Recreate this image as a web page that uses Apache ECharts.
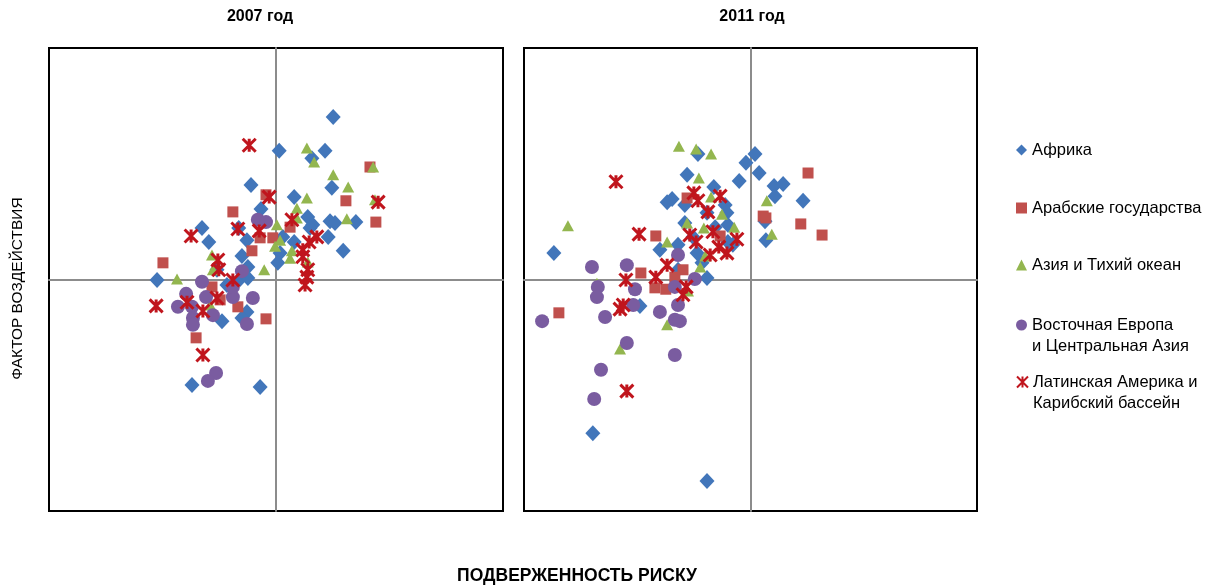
<!DOCTYPE html>
<html>
<head>
<meta charset="utf-8">
<script src="https://cdn.jsdelivr.net/npm/echarts@6/dist/echarts.min.js"></script>
<style>
  html, body { margin: 0; padding: 0; background: #fff; }
  #chart { width: 1208px; height: 588px; }
</style>
</head>
<body>
<div id="chart"></div>
<script>
// регионы
const regionNames = ['Африка', 'Арабские государства', 'Азия и Тихий океан',
    'Восточная Европа\nи Центральная Азия', 'Латинская Америка и\nКарибский бассейн'];
const yearTitles = ['2007 год', '2011 год'];

// [подверженность риску, фактор воздействия], 2007
const africa2007 = [[1.26,3.51],[0.07,2.78],[1.08,2.78],[0.79,2.62],[-0.55,2.04],[1.23,1.98],[0.40,1.78],
    [-0.33,1.52],[0.70,1.35],[-1.63,1.11],[-0.82,1.11],[1.19,1.26],[1.30,1.22],[1.76,1.24],[-1.48,0.81],
    [-0.64,0.85],[0.81,1.18],[0.15,0.92],[0.40,0.81],[1.15,0.92],[1.48,0.62],[-0.75,0.51],[0.09,0.57],
    [0.04,0.36],[-0.62,0.27],[-2.62,-0.01],[-0.79,0.01],[-0.62,0.03],[-1.08,-0.12],[-0.64,-0.70],
    [-1.19,-0.90],[-0.75,-0.83],[-1.85,-2.28],[-0.35,-2.32],[-1.30,0.21],[0.75,1.11]];
const arab2007 = [[2.07,2.43],[1.54,1.70],[2.20,1.24],[-0.22,1.83],[-0.95,1.46],[0.31,1.13],[-0.35,0.90],
    [-0.07,0.90],[-0.53,0.62],[-2.49,0.36],[-1.41,-0.16],[-1.23,-0.44],[-0.84,-0.59],[-0.22,-0.85],[-1.76,-1.26]];
const asia2007 = [[0.68,2.84],[0.84,2.54],[2.14,2.43],[1.26,2.26],[1.59,2.00],[0.68,1.76],[2.18,1.72],
    [0.46,1.54],[0.46,1.33],[1.56,1.31],[0.02,1.18],[0.09,0.85],[-0.02,0.72],[0.35,0.62],[0.31,0.46],
    [-0.26,0.21],[-1.41,0.53],[-1.39,0.21],[-2.18,0.01],[0.70,0.38],[-1.45,-0.55]];
const europe2007 = [[-0.40,1.29],[-0.22,1.24],[-0.75,0.18],[-1.63,-0.05],[-1.98,-0.31],[-1.54,-0.38],
    [-0.95,-0.38],[-0.51,-0.40],[-2.16,-0.59],[-1.85,-0.59],[-1.39,-0.77],[-1.83,-0.83],[-1.83,-0.98],
    [-0.64,-0.96],[-1.32,-2.02],[-1.50,-2.19],[-0.95,-0.16]];
const latin2007 = [[-0.59,2.90],[-0.15,1.78],[2.25,1.67],[0.35,1.29],[-1.87,0.94],[-0.84,1.09],[-0.37,1.05],
    [0.90,0.92],[0.73,0.81],[0.59,0.64],[0.59,0.49],[-1.28,0.42],[-1.26,0.21],[0.70,0.21],[0.68,0.05],
    [0.64,-0.12],[-0.95,-0.01],[-2.64,-0.57],[-1.96,-0.49],[-1.30,-0.40],[-1.61,-0.68],[-1.61,-1.63]];

// 2011
const africa2011 = [[0.10,2.71],[-0.10,2.52],[0.19,2.30],[-0.25,2.13],[0.52,2.02],[0.72,2.06],[0.54,1.80],
    [1.16,1.70],[-1.16,2.71],[-1.40,2.26],[-0.81,2.00],[-1.84,1.67],[-1.73,1.74],[-1.45,1.61],[-0.56,1.61],
    [-0.52,1.44],[-0.96,1.44],[-1.45,1.22],[-0.50,1.18],[0.32,1.26],[0.34,0.85],[-0.78,1.13],[-1.60,0.75],
    [-2.00,0.64],[-1.18,0.57],[-0.50,0.81],[-1.60,0.21],[-0.96,0.03],[-4.34,0.57],[-2.44,-0.57],
    [-3.48,-3.32],[-0.96,-4.35],[-1.07,0.36],[-0.39,0.75],[-1.27,0.92]];
const arab2011 = [[1.27,2.30],[0.28,1.37],[0.34,1.33],[1.11,1.20],[1.58,0.96],[-1.40,1.76],[-2.09,0.94],
    [-0.67,0.94],[-2.42,0.14],[-1.49,0.21],[-1.67,0.05],[-2.11,-0.18],[-1.87,-0.21],[-4.23,-0.72]];
const asia2011 = [[-1.58,2.88],[-1.20,2.82],[-0.87,2.71],[-1.14,2.19],[-0.87,1.78],[-0.63,1.41],[0.36,1.70],
    [0.47,0.98],[-4.03,1.16],[-1.40,1.22],[-1.03,1.11],[-0.36,1.13],[-1.84,0.81],[-1.00,0.51],[-1.11,0.27],
    [-3.39,-0.08],[-1.38,-0.25],[-1.84,-0.98],[-2.88,-1.50]];
const europe2011 = [[-3.50,0.27],[-2.73,0.31],[-3.37,-0.16],[-3.39,-0.38],[-2.55,-0.21],[-1.60,0.53],
    [-1.23,0.01],[-1.67,-0.16],[-2.59,-0.55],[-3.21,-0.81],[-2.00,-0.70],[-1.60,-0.55],[-1.67,-0.87],
    [-1.56,-0.90],[-4.60,-0.90],[-2.73,-1.37],[-1.67,-1.63],[-3.30,-1.95],[-3.45,-2.58]];
const latin2011 = [[-2.97,2.11],[-1.25,1.87],[-1.16,1.70],[-0.67,1.80],[-0.94,1.46],[-2.46,0.98],[-1.34,0.96],
    [-1.20,0.81],[-0.83,1.03],[-0.30,0.87],[-0.70,0.70],[-0.89,0.53],[-0.52,0.57],[-1.84,0.31],[-2.75,-0.01],
    [-2.09,0.05],[-1.42,-0.16],[-1.49,-0.33],[-2.88,-0.64],[-2.81,-0.55],[-2.73,-2.41]];

const yearData = [
    [africa2007, arab2007, asia2007, europe2007, latin2007],
    [africa2011, arab2011, asia2011, europe2011, latin2011]
];

const colors = ['#4276BA', '#C0504D', '#93B64F', '#7A5CA0', '#C0151D'];
const symbols = ['diamond', 'rect', 'triangle', 'circle', 'path://M0,0L10,10M10,0L0,10M5,0L5,10'];
const symbolSizes = [[15, 16], 11, [12, 11], 14, 13];

const font = 'Liberation Sans';
const myChart = echarts.init(document.getElementById('chart'));

const grids = [
    { left: 49, top: 48, width: 454, height: 463 },
    { left: 524, top: 48, width: 453, height: 463 }
].map(g => Object.assign(g, { show: true, borderColor: '#000', borderWidth: 2 }));

const axisCommon = {
    type: 'value', min: -5, max: 5,
    axisLine: { show: true, onZero: true, lineStyle: { color: '#8c8c8c', width: 2 } },
    axisTick: { show: false },
    axisLabel: { show: false },
    splitLine: { show: false }
};

const series = [];
yearData.forEach((groups, gi) => {
    groups.forEach((points, si) => {
        const isCross = si === 4;
        series.push({
            name: regionNames[si],
            type: 'scatter',
            xAxisIndex: gi,
            yAxisIndex: gi,
            symbol: symbols[si],
            symbolSize: symbolSizes[si],
            data: points,
            itemStyle: isCross
                ? { color: colors[si], borderColor: colors[si], borderWidth: 3, opacity: 1 }
                : { color: colors[si], opacity: 1 }
        });
    });
});

// положение значков легенды по вертикали
const legendCenters = [150, 208, 265, 325, 382];
const legendLine = 21.5;
const legends = regionNames.map((name, i) => {
    const lines = name.indexOf('\n') >= 0 ? 3 : 1;
    return {
        orient: 'vertical',
        left: 1016,
        top: legendCenters[i] - lines * legendLine / 2,
        padding: 0,
        itemWidth: 11,
        itemHeight: 11,
        selectedMode: false,
        data: [name],
        formatter: n => (n.indexOf('\n') >= 0 ? ' \n' + n : n),
        textStyle: { fontFamily: font, fontSize: 16.5, lineHeight: legendLine, color: '#000' }
    };
});

myChart.setOption({
    animation: false,
    textStyle: { fontFamily: font },
    title: [
        { text: yearTitles[0], left: 255, top: 4, textAlign: 'center',
          textStyle: { fontFamily: font, fontSize: 16, fontWeight: 'bold', color: '#000' } },
        { text: yearTitles[1], left: 747, top: 4, textAlign: 'center',
          textStyle: { fontFamily: font, fontSize: 16, fontWeight: 'bold', color: '#000' } },
        { text: 'ПОДВЕРЖЕННОСТЬ РИСКУ', left: 572, top: 562, textAlign: 'center',
          textStyle: { fontFamily: font, fontSize: 17.5, fontWeight: 'bold', color: '#000' } }
    ],
    legend: legends,
    grid: grids,
    xAxis: [
        Object.assign({ gridIndex: 0 }, axisCommon),
        Object.assign({ gridIndex: 1 }, axisCommon)
    ],
    yAxis: [
        Object.assign({ gridIndex: 0, name: 'ФАКТОР ВОЗДЕЙСТВИЯ', nameLocation: 'middle', nameGap: 23,
            nameTextStyle: { fontFamily: font, fontSize: 15.5, color: '#000', padding: [0, 18, 0, 0] } }, axisCommon),
        Object.assign({ gridIndex: 1 }, axisCommon)
    ],
    series: series
});
</script>
</body>
</html>
